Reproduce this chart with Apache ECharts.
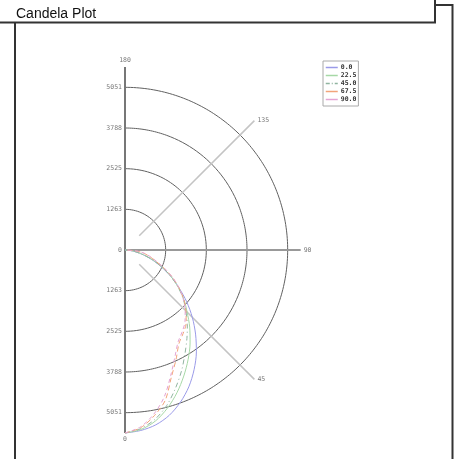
<!DOCTYPE html>
<html><head><meta charset="utf-8">
<script src="https://cdn.jsdelivr.net/npm/echarts@6/dist/echarts.min.js"></script>
<style>html,body{margin:0;padding:0;background:#fff}#c{width:458px;height:459px}</style>
</head><body><div id="c"></div>
<script>
const titleText = 'Candela Plot';
const maxCandela = 5682;
const ringValues = [1263, 2525, 3788, 5051];
const spokeAngles = [45, 90, 135];
const angles = [0,5,10,15,20,25,30,35,40,45,50,55,60,65,70,75,80,85,90];
const planeNames = ['0.0','22.5','45.0','67.5','90.0'];
const plane0 = [5682,5625,5512,5313,5029,4688,4290,3864,3409,2955,2500,2046,1648,1250,909,597,341,142,0];
const plane22 = [5682,5597,5398,5085,4716,4318,3921,3523,3125,2727,2386,2017,1648,1278,938,625,369,159,0];
const plane45 = [5682,5568,5341,5000,4574,4148,3722,3352,3011,2671,2358,2017,1648,1278,938,625,369,170,0];
const plane67 = [5682,5540,5227,4830,4205,3750,3352,3153,2955,2671,2386,2046,1705,1335,1023,795,597,341,0];
const plane90 = [5682,5512,5171,4716,4148,3665,3296,3097,2898,2642,2358,2046,1705,1364,1051,824,625,369,0];
const planeValues = [plane0, plane22, plane45, plane67, plane90];
const planeColors = ['#9a9ae8','#a6d8a6','#90b4a0','#f2a47a','#e4a4d4'];
const planeDash = ['solid','solid',[5,3,1,3],[5,3],[4,3]];

const PX = maxCandela / 183; // units per pixel
const rad = d => d * Math.PI / 180;
const pt = (deg, v) => [v * Math.sin(rad(deg)), -v * Math.cos(rad(deg))];

const series = [];
ringValues.forEach(v => {
  const d = [];
  for (let a = 0; a <= 180; a += 1) d.push(pt(a, v));
  series.push({type:'line', data:d, symbol:'none', silent:true, lineStyle:{color:'#606060', width:1}, z:1});
});
series.push({type:'line', data:[[0,-maxCandela],[0,maxCandela]], symbol:'none', silent:true, lineStyle:{color:'#777', width:2}, z:2});
spokeAngles.forEach(a => {
  const start = a === 90 ? 0 : maxCandela * 0.11;
  series.push({type:'line', data:[pt(a,start), pt(a,maxCandela*(a===90?0.96:1))], symbol:'none', silent:true,
    lineStyle:{color: a===90 ? '#999' : '#c4c4c4', width: a===90 ? 2 : 1.5}, z:2});
});
planeNames.forEach((n, i) => {
  series.push({type:'line', name:n, smooth:0.3, symbol:'none', color:planeColors[i],
    data: angles.map((a, j) => pt(a, planeValues[i][j])),
    lineStyle:{color:planeColors[i], width:1, type:planeDash[i]}, itemStyle:{color:planeColors[i]}, z:5});
});
const lab = (x, y, text, pos) => ({value:[x,y], label:{show:true, formatter:text, position:pos, distance:3}});
const labelData = [];
ringValues.forEach(v => { labelData.push(lab(0, v, String(v), 'left')); labelData.push(lab(0, -v, String(v), 'left')); });
labelData.push(lab(0, 0, '0', 'left'));
labelData.push(lab(0, maxCandela, '180', 'top'));
labelData.push(lab(0, -maxCandela, '0', 'bottom'));
spokeAngles.forEach(a => {
  const p = pt(a, a===90 ? maxCandela*0.96 : maxCandela);
  labelData.push(lab(p[0], p[1], String(a), 'right'));
});
series.push({type:'scatter', data:labelData, symbolSize:0, silent:true, z:6,
  label:{fontFamily:'DejaVu Sans Mono', fontSize:6.5, color:'#555'}});

const chart = echarts.init(document.getElementById('c'), null, {renderer:'canvas'});
chart.setOption({
  animation:false,
  grid:{left:25, top:50, width:400, height:400},
  xAxis:{type:'value', min:-100*PX, max:300*PX, show:false},
  yAxis:{type:'value', min:-200*PX, max:200*PX, show:false},
  legend:{data:planeNames.map((n, i) => ({name:n, itemStyle:{opacity:0},
      lineStyle:{color:planeColors[i], width:1.5, type: i===2 ? [4,2,1,2] : 'solid'}})),
    orient:'vertical', left:323, top:61, itemWidth:12, itemHeight:5, itemGap:1,
    padding:[3,2,3,2], borderColor:'#aaa', borderWidth:1,
    textStyle:{fontFamily:'DejaVu Sans Mono', fontSize:6.5, fontWeight:'bold', color:'#333', lineHeight:5.5, padding:[0,0,0,-2]}},
  graphic:[
    {type:'text', left:16, top:7, style:{text:titleText, font:'14px "Liberation Sans", Arial, sans-serif', fill:'#111'}},
    {type:'polyline', shape:{points:[[0,22.5],[435,22.5],[435,0]]}, style:{stroke:'#333', lineWidth:2, fill:null}},
    {type:'polyline', shape:{points:[[435,5],[452.5,5],[452.5,459]]}, style:{stroke:'#333', lineWidth:2, fill:null}},
    {type:'line', shape:{x1:15, y1:22, x2:15, y2:459}, style:{stroke:'#333', lineWidth:2}}
  ],
  series:series
});
</script></body></html>
